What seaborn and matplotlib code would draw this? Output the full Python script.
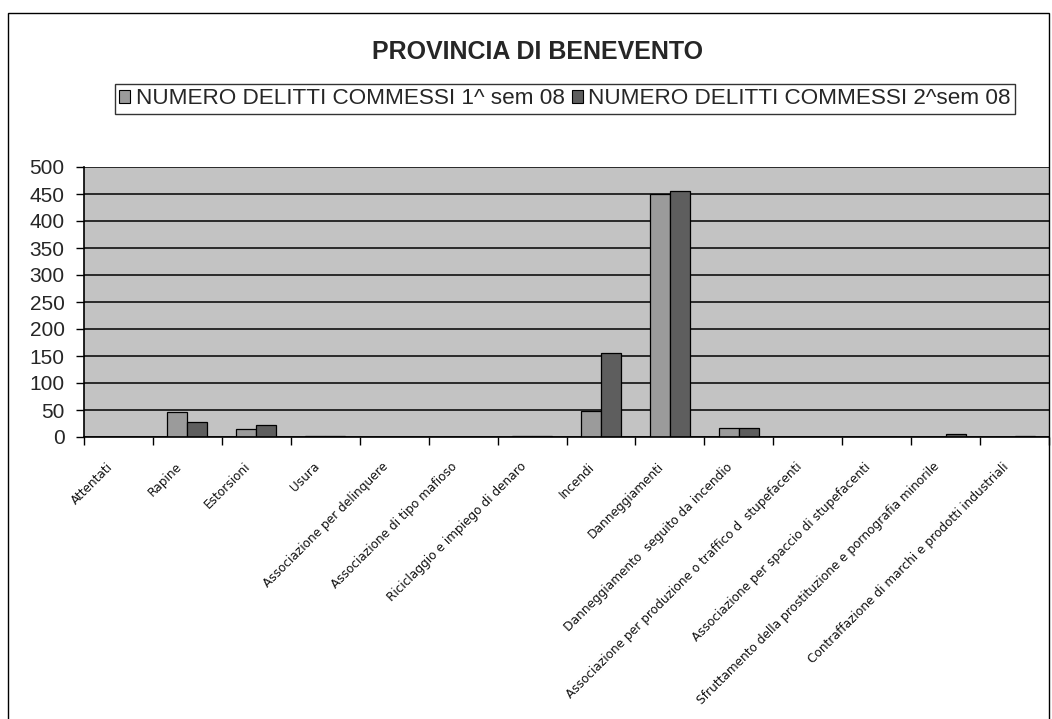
import matplotlib
matplotlib.use("Agg")
import matplotlib.pyplot as plt
import matplotlib.transforms as mtransforms
import seaborn as sns
import pandas as pd
from matplotlib.patches import Rectangle, Patch

categories = [
    "Attentati", "Rapine", "Estorsioni", "Usura",
    "Associazione per delinquere", "Associazione di tipo mafioso",
    "Riciclaggio e impiego di denaro", "Incendi", "Danneggiamenti",
    "Danneggiamento  seguito da incendio",
    "Associazione per produzione o traffico d  stupefacenti",
    "Associazione per spaccio di stupefacenti",
    "Sfruttamento della prostituzione e pornografia minorile",
    "Contraffazione di marchi e prodotti industriali",
]
series_names = ["NUMERO DELITTI COMMESSI 1^ sem 08", "NUMERO DELITTI COMMESSI 2^sem 08"]
sem1 = [0, 46, 14, 2, 0, 0, 2, 48, 450, 17, 0, 0, 0, 0]
sem2 = [0, 28, 23, 1, 0, 0, 1, 155, 455, 17, 0, 0, 5, 2]
yticks = [0, 50, 100, 150, 200, 250, 300, 350, 400, 450, 500]
title = "PROVINCIA DI BENEVENTO"

df = pd.DataFrame({
    "cat": categories * 2,
    "val": sem1 + sem2,
    "serie": [series_names[0]] * len(categories) + [series_names[1]] * len(categories),
})

sns.set_style("white")
plt.rcParams["font.family"] = ["Liberation Sans", "DejaVu Sans"]

W, H = 1052, 719
fig = plt.figure(figsize=(W / 100, H / 100), dpi=100)
ax = fig.add_axes([84 / W, 1 - 437 / H, (1049 - 84) / W, (437 - 167) / H])
ax.set_facecolor("#c3c3c3")

colors = ["#9b9b9b", "#5e5e5e"]
sns.barplot(data=df, x="cat", y="val", hue="serie", palette=colors,
            width=0.58, edgecolor="black", linewidth=0.9, ax=ax,
            legend=False, saturation=1, order=categories, hue_order=series_names)

ax.set_ylim(0, 500)
ax.set_xlim(-0.5, len(categories) - 0.5)
ax.set_yticks(yticks)
ax.set_yticklabels([str(v) for v in yticks], fontsize=15)
ax.yaxis.grid(True, color="black", linewidth=1.1)
ax.set_axisbelow(True)
ax.tick_params(axis="y", length=6, width=1, color="black", direction="out", pad=8, left=True)

ax.set_xticks(range(len(categories)))
ax.set_xticklabels(categories, rotation=45, ha="right", va="center", rotation_mode="anchor",
                   fontsize=9.7, fontstretch="condensed", family=["DejaVu Sans"], color="#111111")
ax.tick_params(axis="x", length=0, pad=20)
offset = mtransforms.ScaledTranslation(-8 / 100, 0, fig.dpi_scale_trans)
for lab in ax.get_xticklabels():
    lab.set_transform(lab.get_transform() + offset)
ax.set_xticks([i - 0.5 for i in range(len(categories) + 1)], minor=True)
ax.tick_params(axis="x", which="minor", length=6, width=1, color="black", direction="out", bottom=True)
ax.set_xlabel("")
ax.set_ylabel("")

for s in ["top", "right"]:
    ax.spines[s].set_visible(False)
ax.spines["left"].set_color("black")
ax.spines["bottom"].set_color("black")
ax.spines["left"].set_linewidth(1.2)
ax.spines["bottom"].set_linewidth(1.2)

fig.text(538 / W, 1 - 52 / H, title, ha="center", va="center", fontsize=18, fontweight="bold")

handles = [Patch(facecolor=colors[0], edgecolor="black", linewidth=0.8),
           Patch(facecolor=colors[1], edgecolor="black", linewidth=0.8)]
leg = fig.legend(handles, series_names, loc="center", bbox_to_anchor=(565 / W, 1 - 99 / H),
                 ncol=2, fontsize=16.2, frameon=True, fancybox=False, edgecolor="black",
                 handlelength=0.5, handleheight=0.5, handletextpad=0.25, columnspacing=0.3,
                 borderpad=0.2, borderaxespad=0)
leg.get_frame().set_linewidth(1.0)

fig.patches.append(Rectangle((8 / W, -0.01), (1049 - 8) / W, 1 - 13 / H + 0.01,
                             transform=fig.transFigure, fill=False, edgecolor="black",
                             linewidth=1.0))

fig.savefig("out.png", dpi=100)
